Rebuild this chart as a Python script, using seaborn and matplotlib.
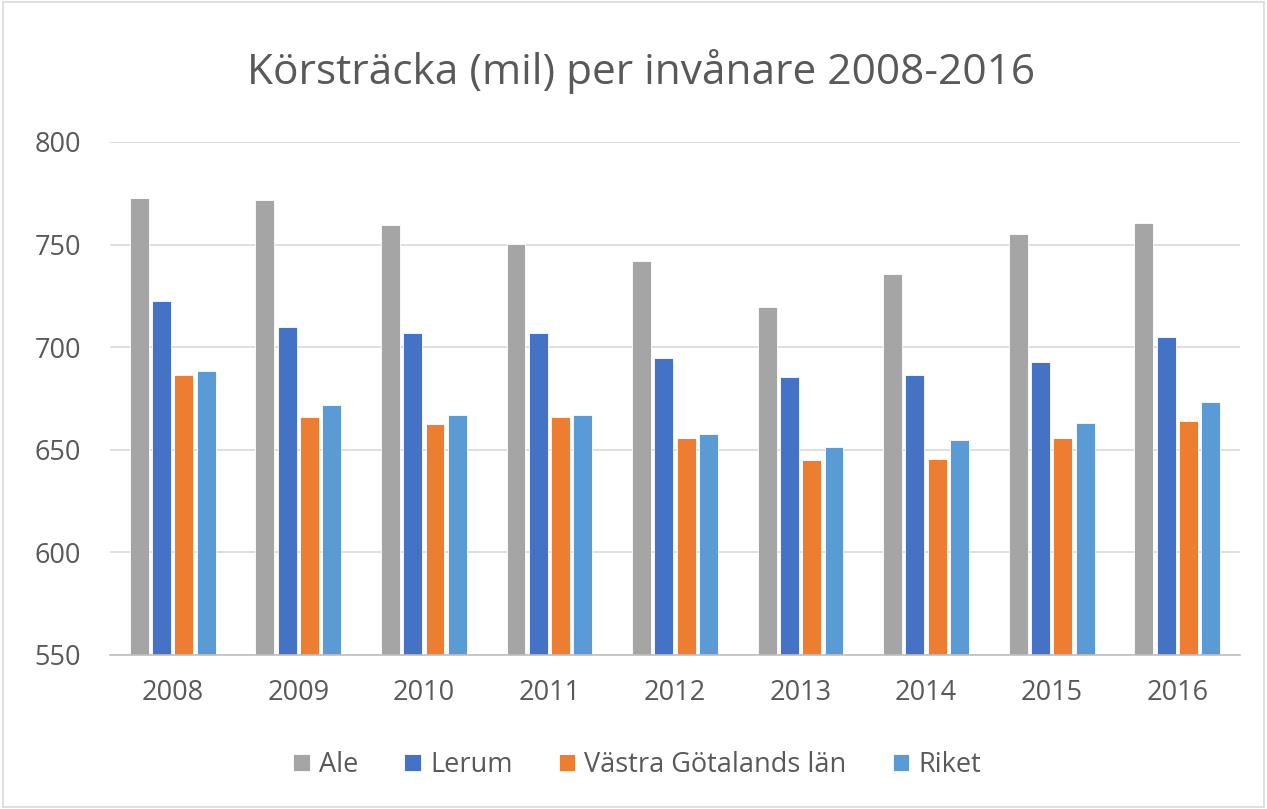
import matplotlib
matplotlib.use("Agg")
import matplotlib.pyplot as plt
import pandas as pd
import seaborn as sns
from matplotlib.patches import Rectangle

# Data
years = ["2008", "2009", "2010", "2011", "2012", "2013", "2014", "2015", "2016"]
ale = [772.6, 771.8, 759.6, 750.3, 742.0, 719.7, 735.5, 755.0, 760.6]
lerum = [722.6, 709.6, 707.0, 707.0, 694.8, 685.5, 686.5, 693.0, 705.0]
vastra_gotaland = [686.5, 666.1, 662.4, 666.1, 655.9, 644.8, 645.6, 655.9, 664.2]
riket = [688.4, 671.7, 667.1, 667.1, 657.8, 651.3, 654.9, 663.2, 673.5]
series_names = ["Ale", "Lerum", "Västra Götalands län", "Riket"]
colors = ["#A5A5A5", "#4472C4", "#ED7D31", "#5B9BD5"]

df = pd.DataFrame({"year": years, "Ale": ale, "Lerum": lerum,
                   "Västra Götalands län": vastra_gotaland, "Riket": riket})
long = df.melt(id_vars="year", var_name="serie", value_name="mil")

sns.set_theme(style="white")
plt.rcParams["font.family"] = ["Open Sans", "DejaVu Sans"]
text_color = "#595959"

fig = plt.figure(figsize=(12.67, 8.09), dpi=100)
ax = fig.add_axes([0.0868, 0.1904, 0.8919, 0.6341])

sns.barplot(data=long, x="year", y="mil", hue="serie", hue_order=series_names,
            palette=colors, width=0.71, gap=0.15, ax=ax, saturation=1,
            edgecolor="white", linewidth=0.6)

# bars start below the axis minimum, so clip at 550
ax.set_ylim(550, 800)
ax.set_yticks([550, 600, 650, 700, 750, 800])
ax.yaxis.grid(True, color="#d9d9d9", linewidth=1.2)
ax.set_axisbelow(True)
for side in ["top", "right", "left"]:
    ax.spines[side].set_visible(False)
ax.spines["bottom"].set_color("#bfbfbf")
ax.spines["bottom"].set_linewidth(1.2)
ax.tick_params(axis="both", length=0, labelsize=19.5, colors=text_color)
ax.tick_params(axis="y", pad=21)
ax.tick_params(axis="x", pad=17)
ax.set_xlabel("")
ax.set_ylabel("")

ax.get_legend().remove()
handles, labels = ax.get_legend_handles_labels()
fig.legend(handles, labels, loc="center", bbox_to_anchor=(0.503, 0.054), ncol=4,
           frameon=False, fontsize=19.5, handlelength=0.6, handleheight=0.6,
           handletextpad=0.35, columnspacing=1.7, labelcolor=text_color)

fig.text(0.506, 0.912, "Körsträcka (mil) per invånare 2008-2016", ha="center",
         va="center", fontsize=30.5, color=text_color)

fig.patches.append(Rectangle((0.002, 0.002), 0.996, 0.996, transform=fig.transFigure,
                             fill=False, edgecolor="#d9d9d9", linewidth=1.2))

fig.savefig("out.png", dpi=100)
